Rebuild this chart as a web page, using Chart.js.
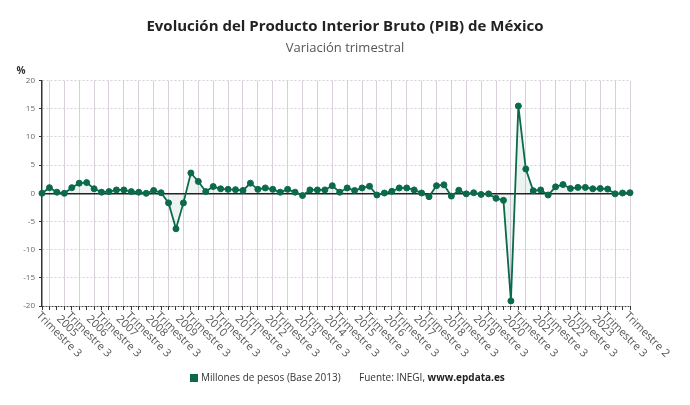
<!DOCTYPE html>
<html>
<head>
<meta charset="utf-8">
<script src="https://cdn.jsdelivr.net/npm/chart.js@4"></script>
<style>
  body { margin: 0; background: #fff; }
  #wrap { width: 690px; height: 405px; }
</style>
</head>
<body>
<div id="wrap"><canvas id="myChart" width="690" height="405"></canvas></div>
<script>
// PIB Mexico, variación trimestral (%), 2004 T3 - 2024 T2
var categories = [];
for (var y = 2004; y <= 2024; y++) {
  for (var q = 1; q <= 4; q++) {
    if ((y === 2004 && q < 3) || (y === 2024 && q > 2)) continue;
    categories.push(y + ' T' + q);
  }
}

var pibValues = [
  0.0, 1.0, 0.2, 0.0, 1.0, 1.8, 1.9, 0.8, 0.2, 0.3, 0.6, 0.6, 0.3, 0.2, 0.0, 0.5,
  0.1, -1.7, -6.3, -1.7, 3.6, 2.1, 0.3, 1.2, 0.8, 0.7, 0.65, 0.5, 1.8, 0.7, 0.95, 0.7,
  0.2, 0.7, 0.2, -0.4, 0.6, 0.6, 0.6, 1.35, 0.2, 0.95, 0.5, 0.95, 1.25, -0.3, 0.05, 0.35,
  0.95, 0.95, 0.6, 0.05, -0.6, 1.35, 1.5, -0.5, 0.55, -0.1, 0.1, -0.2, -0.1, -0.9,
  -1.25, -19.1, 15.5, 4.3, 0.45, 0.6, -0.3, 1.15, 1.55, 0.85, 1.05, 1.05, 0.8, 0.85, 0.75, -0.1,
  0.05, 0.1
];

// category shown on the axis, then the two text lines of its label
var tickLabels = [
  ['2004 T3', '2005', 'Trimestre 3'], ['2005 T3', '2006', 'Trimestre 3'],
  ['2006 T3', '2007', 'Trimestre 3'], ['2007 T3', '2008', 'Trimestre 3'],
  ['2008 T3', '2009', 'Trimestre 3'], ['2009 T3', '2010', 'Trimestre 3'],
  ['2010 T3', '2011', 'Trimestre 3'], ['2011 T3', '2012', 'Trimestre 3'],
  ['2012 T3', '2013', 'Trimestre 3'], ['2013 T3', '2014', 'Trimestre 3'],
  ['2014 T3', '2015', 'Trimestre 3'], ['2015 T3', '2016', 'Trimestre 3'],
  ['2016 T3', '2017', 'Trimestre 3'], ['2017 T3', '2018', 'Trimestre 3'],
  ['2018 T3', '2019', 'Trimestre 3'], ['2019 T3', '2020', 'Trimestre 3'],
  ['2020 T3', '2021', 'Trimestre 3'], ['2021 T3', '2022', 'Trimestre 3'],
  ['2022 T3', '2023', 'Trimestre 3'], ['2023 T3', '', 'Trimestre 3'],
  ['2024 T2', '', 'Trimestre 2']
];

var yTicks = [-20, -15, -10, -5, 0, 5, 10, 15, 20];

var green = '#0b6a4b';
var gridColor = '#d8cfdb';
var font = '"Open Sans", "Noto Sans", sans-serif';

var extras = {
  id: 'extras',
  afterDraw: function(chart) {
    var c = chart.ctx;
    var xs = chart.scales.x;
    var area = chart.chartArea;
    c.save();
    // rotated x labels
    c.fillStyle = '#555';
    c.font = '11px ' + font;
    c.textAlign = 'left';
    c.textBaseline = 'top';
    tickLabels.forEach(function(t) {
      var px = xs.getPixelForValue(categories.indexOf(t[0]));
      c.save();
      c.translate(px, area.bottom + 4);
      c.rotate(Math.PI / 4);
      c.fillText(t[2], 0, 0);
      if (t[1]) {
        var dx = (c.measureText(t[2]).width - c.measureText(t[1]).width) / 2;
        c.fillText(t[1], dx, -12);
      }
      c.restore();
    });
    // unit
    c.fillStyle = '#333';
    c.font = 'bold 10px ' + font;
    c.textAlign = 'center';
    c.textBaseline = 'middle';
    c.fillText('%', 21, 71);
    // legend + source
    var ds = chart.data.datasets[0];
    c.fillStyle = ds.borderColor;
    c.fillRect(190, 374, 8, 8);
    c.font = '10px ' + font;
    c.textAlign = 'left';
    c.fillStyle = '#333';
    c.fillText(ds.label, 201, 378.5);
    var src = 'Fuente: INEGI, ';
    c.fillText(src, 359, 378.5);
    var w = c.measureText(src).width;
    c.font = 'bold 10px ' + font;
    c.fillStyle = '#222';
    c.fillText('www.epdata.es', 359 + w, 378.5);
    c.restore();
  }
};

var ctx = document.getElementById('myChart').getContext('2d');
var myChart = new Chart(ctx, {
  type: 'line',
  data: {
    labels: categories,
    datasets: [{
      label: 'Millones de pesos (Base 2013)',
      data: pibValues,
      borderColor: green,
      backgroundColor: 'rgba(11,106,75,0.08)',
      pointBackgroundColor: green,
      pointBorderColor: green,
      pointBorderWidth: 1,
      pointRadius: 3,
      borderWidth: 1.8,
      fill: 'origin',
      tension: 0,
      clip: false
    }]
  },
  plugins: [extras],
  options: {
    responsive: false,
    animation: false,
    layout: { padding: { left: 0, right: 0, top: 0, bottom: 94 } },
    plugins: {
      legend: { display: false },
      tooltip: { enabled: false },
      title: {
        display: true,
        text: 'Evolución del Producto Interior Bruto (PIB) de México',
        color: '#222',
        font: { family: font, size: 15, weight: 'bold' },
        padding: { top: 18, bottom: 4 }
      },
      subtitle: {
        display: true,
        text: 'Variación trimestral',
        color: '#555',
        font: { family: font, size: 13 },
        padding: { top: 0, bottom: 25 }
      }
    },
    scales: {
      x: {
        ticks: { display: false, autoSkip: false },
        border: { display: false },
        grid: {
          color: function(c) { return c.index % 2 === 1 ? gridColor : 'rgba(0,0,0,0)'; },
          lineWidth: 1,
          tickLength: 4,
          tickColor: '#333',
          tickWidth: 1
        },
        afterFit: function(s) { s.height = 5; }
      },
      y: {
        min: -20,
        max: 20,
        afterBuildTicks: function(s) {
          s.ticks = yTicks.map(function(v) { return { value: v }; });
        },
        ticks: {
          color: '#666',
          font: { family: font, size: 8 },
          padding: 4
        },
        border: {
          display: true,
          color: '#333',
          width: 1.5,
          dash: function(c) {
            if (!c.tick) return [];
            if (c.tick.value === 0) return [];
            if (c.tick.value === -20) return [2, 1];
            return [2, 2];
          }
        },
        grid: {
          color: function(c) {
            if (!c.tick) return gridColor;
            if (c.tick.value === 0) return '#222';
            if (c.tick.value === -20) return '#444';
            return gridColor;
          },
          lineWidth: function(c) { return c.tick && c.tick.value === 0 ? 1.5 : 1; },
          tickLength: 3,
          tickColor: '#333'
        },
        afterFit: function(s) { s.width = 42; }
      },
      // empty right axis, only keeps the right margin so the titles stay centred on the page
      yRight: {
        position: 'right',
        display: true,
        ticks: { display: false },
        grid: { display: false, drawTicks: false },
        border: { display: false },
        afterFit: function(s) { s.width = 60; }
      }
    }
  }
});
</script>
</body>
</html>
